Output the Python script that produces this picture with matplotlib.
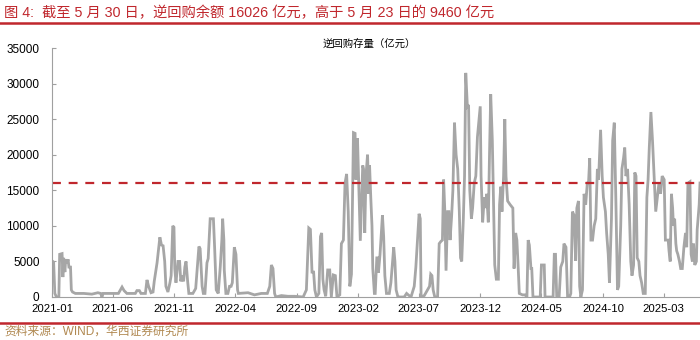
import numpy as np
import pandas as pd
import matplotlib
matplotlib.use("Agg")
import matplotlib.pyplot as plt
from matplotlib.lines import Line2D

plt.rcParams['font.family'] = ['Liberation Sans', 'Noto Sans CJK SC', 'DejaVu Sans']

# 逆回购存量（亿元）
dates_2021 = ["2021-01-01", "2021-01-05", "2021-01-08", "2021-01-12", "2021-01-18", "2021-01-20",
              "2021-01-26", "2021-01-28", "2021-01-30", "2021-02-02", "2021-02-04", "2021-02-07",
              "2021-02-10", "2021-02-12", "2021-02-16", "2021-02-18", "2021-02-21", "2021-02-28",
              "2021-03-21", "2021-04-10", "2021-04-25", "2021-05-02", "2021-05-05", "2021-05-08",
              "2021-06-15", "2021-06-24", "2021-06-29", "2021-07-06", "2021-07-27", "2021-07-31",
              "2021-08-06", "2021-08-10", "2021-08-21", "2021-08-25", "2021-08-29", "2021-09-04",
              "2021-09-09", "2021-09-12", "2021-09-19", "2021-09-26", "2021-09-30", "2021-10-04",
              "2021-10-08", "2021-10-11", "2021-10-16", "2021-10-21", "2021-10-24", "2021-10-28",
              "2021-10-31", "2021-11-02", "2021-11-05", "2021-11-10", "2021-11-14", "2021-11-17",
              "2021-11-20", "2021-11-24", "2021-11-27", "2021-11-30", "2021-12-04", "2021-12-07",
              "2021-12-17", "2021-12-24", "2021-12-28"]
values_2021 = [5100, 4900, 500, 0, 0, 6000,
               6100, 2800, 5500, 3500, 5300, 4700,
               5300, 4200, 4200, 1000, 700, 500,
               500, 400, 600, 500, 0, 500,
               500, 1400, 900, 500, 500, 900,
               900, 500, 500, 2400, 1500, 600,
               700, 2200, 4800, 8400, 7300, 7200,
               5000, 1500, 700, 2000, 3000, 10000,
               9800, 4000, 2000, 5000, 5000, 2200,
               3000, 2200, 4200, 5000, 2200, 500,
               500, 1200, 4200]

dates_2022 = ["2022-01-01", "2022-01-04", "2022-01-09", "2022-01-12", "2022-01-16", "2022-01-21",
              "2022-01-24", "2022-01-29", "2022-02-06", "2022-02-09", "2022-02-13", "2022-02-18",
              "2022-02-23", "2022-02-27", "2022-03-01", "2022-03-04", "2022-03-05", "2022-03-09",
              "2022-03-14", "2022-03-18", "2022-03-22", "2022-03-25", "2022-03-30", "2022-04-03",
              "2022-04-07", "2022-04-09", "2022-05-03", "2022-05-19", "2022-06-05", "2022-06-20",
              "2022-06-26", "2022-06-30", "2022-07-04", "2022-07-08", "2022-07-11", "2022-07-25",
              "2022-08-10", "2022-08-27", "2022-09-17", "2022-09-21", "2022-09-25", "2022-10-01",
              "2022-10-05", "2022-10-09", "2022-10-13", "2022-10-16", "2022-10-20", "2022-10-26",
              "2022-10-30", "2022-11-02", "2022-11-05", "2022-11-08", "2022-11-12", "2022-11-17",
              "2022-11-22", "2022-11-26", "2022-12-01", "2022-12-06", "2022-12-10", "2022-12-17",
              "2022-12-21", "2022-12-26", "2022-12-30"]
values_2022 = [7100, 6800, 1500, 500, 500, 4800,
               5400, 11000, 11000, 7000, 1000, 500,
               4200, 8000, 11000, 8000, 3800, 500,
               500, 1500, 1500, 2000, 7000, 6000,
               1000, 500, 600, 300, 500, 500,
               1500, 4500, 4000, 500, 0, 200,
               100, 100, 0, 500, 1000, 9700,
               9500, 3500, 3500, 1000, 0, 500,
               8500, 9000, 2500, 1000, 100, 3800,
               3800, 0, 3100, 3000, 0, 300,
               7500, 8000, 16000]

dates_2023 = ["2023-01-03", "2023-01-07", "2023-01-11", "2023-01-15", "2023-01-20", "2023-01-24",
              "2023-01-26", "2023-01-30", "2023-02-03", "2023-02-06", "2023-02-12", "2023-02-14",
              "2023-02-17", "2023-02-20", "2023-02-24", "2023-02-27", "2023-03-01", "2023-03-04",
              "2023-03-07", "2023-03-09", "2023-03-13", "2023-03-15", "2023-03-19", "2023-03-21",
              "2023-03-23", "2023-03-27", "2023-04-02", "2023-04-05", "2023-04-08", "2023-04-12",
              "2023-04-19", "2023-04-23", "2023-04-30", "2023-05-03", "2023-05-06", "2023-05-10",
              "2023-05-14", "2023-05-26", "2023-06-01", "2023-06-05", "2023-06-12", "2023-06-20",
              "2023-06-24", "2023-06-28", "2023-07-02", "2023-07-05", "2023-07-07", "2023-07-15",
              "2023-07-23", "2023-07-28", "2023-07-31", "2023-08-03", "2023-08-06", "2023-08-10",
              "2023-08-17", "2023-08-21", "2023-08-25", "2023-08-29", "2023-09-01", "2023-09-04",
              "2023-09-07", "2023-09-11", "2023-09-14", "2023-09-17", "2023-09-21", "2023-09-24",
              "2023-09-28", "2023-10-02", "2023-10-06", "2023-10-10", "2023-10-13", "2023-10-16",
              "2023-10-20", "2023-10-23", "2023-10-26", "2023-10-30", "2023-11-02", "2023-11-05",
              "2023-11-09", "2023-11-12", "2023-11-16", "2023-11-20", "2023-11-24", "2023-12-01",
              "2023-12-03", "2023-12-07", "2023-12-11", "2023-12-14", "2023-12-17", "2023-12-21",
              "2023-12-24", "2023-12-27", "2023-12-31"]
values_2023 = [17300, 12000, 1500, 3200, 23100, 23000,
               16500, 22300, 14000, 7900, 18500, 18000,
               9000, 17000, 20000, 14500, 18500, 14000,
               10000, 4000, 500, 500, 5500, 5500,
               3400, 6000, 11500, 8500, 3000, 500,
               500, 2000, 7000, 5000, 1000, 100,
               0, 0, 500, 300, 0, 1500,
               4200, 8000, 11700, 11000, 0, 200,
               1000, 1500, 3200, 3000, 1000, 0,
               0, 7500, 7800, 8000, 16500, 12000,
               3700, 12000, 12000, 8000, 11500, 15000,
               24500, 20000, 18000, 12000, 5500, 5000,
               11000, 17000, 31500, 26800, 27000, 15000,
               11000, 12500, 16000, 17000, 22500, 26800,
               17000, 10500, 14000, 12500, 14500, 10500,
               20000, 28500, 22000]

dates_2024 = ["2024-01-03", "2024-01-06", "2024-01-10", "2024-01-15", "2024-01-18", "2024-01-21",
              "2024-01-24", "2024-01-28", "2024-01-31", "2024-02-03", "2024-02-07", "2024-02-13",
              "2024-02-20", "2024-02-23", "2024-02-27", "2024-03-01", "2024-03-04", "2024-03-07",
              "2024-03-15", "2024-03-21", "2024-03-26", "2024-03-29", "2024-04-01", "2024-04-05",
              "2024-04-07", "2024-04-10", "2024-04-28", "2024-05-01", "2024-05-08", "2024-05-10",
              "2024-05-30", "2024-06-02", "2024-06-05", "2024-06-08", "2024-06-14", "2024-06-18",
              "2024-06-23", "2024-06-26", "2024-07-01", "2024-07-05", "2024-07-10", "2024-07-13",
              "2024-07-17", "2024-07-21", "2024-07-25", "2024-07-28", "2024-08-01", "2024-08-04",
              "2024-08-07", "2024-08-11", "2024-08-15", "2024-08-19", "2024-08-23", "2024-08-26",
              "2024-08-29", "2024-09-01", "2024-09-05", "2024-09-09", "2024-09-13", "2024-09-17",
              "2024-09-20", "2024-09-25", "2024-09-29", "2024-10-02", "2024-10-07", "2024-10-10",
              "2024-10-14", "2024-10-17", "2024-10-22", "2024-10-25", "2024-10-29", "2024-11-02",
              "2024-11-06", "2024-11-09", "2024-11-14", "2024-11-17", "2024-11-21", "2024-11-24",
              "2024-11-27", "2024-12-01", "2024-12-05", "2024-12-09", "2024-12-12", "2024-12-16",
              "2024-12-19", "2024-12-22", "2024-12-25", "2024-12-29"]
values_2024 = [13000, 4500, 2500, 2500, 13000, 15500,
               12000, 17000, 25000, 17000, 13500, 13000,
               12500, 4000, 9000, 8000, 4500, 500,
               300, 300, 0, 8000, 7300, 4000,
               4000, 0, 0, 4500, 4500, 0,
               0, 6000, 6000, 0, 0, 4200,
               5000, 7500, 7000, 0, 0, 500,
               12000, 11500, 5100, 12500, 13500, 1500,
               0, 1000, 14500, 13000, 16000, 16000,
               19500, 8000, 8000, 10000, 11000, 18000,
               16500, 23500, 17000, 14000, 12000, 9000,
               6000, 2000, 11000, 22000, 24500, 13500,
               1000, 1500, 10000, 18000, 19500, 21000,
               17000, 18000, 13000, 5000, 3000, 4500,
               17500, 17000, 5500, 5000]

dates_2025 = ["2025-01-01", "2025-01-05", "2025-01-09", "2025-01-14", "2025-01-18", "2025-01-21",
              "2025-01-24", "2025-01-28", "2025-02-01", "2025-02-05", "2025-02-09", "2025-02-13",
              "2025-02-17", "2025-02-21", "2025-02-25", "2025-03-02", "2025-03-05", "2025-03-12",
              "2025-03-14", "2025-03-17", "2025-03-20", "2025-03-23", "2025-03-25", "2025-03-28",
              "2025-03-31", "2025-04-02", "2025-04-05", "2025-04-09", "2025-04-12", "2025-04-16",
              "2025-04-20", "2025-04-24", "2025-04-27", "2025-04-30", "2025-05-05", "2025-05-08",
              "2025-05-11", "2025-05-14", "2025-05-17", "2025-05-21", "2025-05-23", "2025-05-28",
              "2025-05-30"]
values_2025 = [3000, 2000, 500, 500, 14000, 16500,
               21000, 26000, 22000, 17000, 12000, 14000,
               16000, 14500, 17000, 16500, 8000, 8000,
               6500, 5000, 14500, 12500, 10000, 11000,
               7500, 6500, 6000, 5000, 4000, 4000,
               7000, 9000, 7000, 16000, 16200, 6000,
               5000, 7500, 4500, 5000, 9460, 13000,
               16026]

latest = 16026
ytick_vals = [0, 5000, 10000, 15000, 20000, 25000, 30000, 35000]
xtick_labels = ["2021-01", "2021-06", "2021-11", "2022-04", "2022-09", "2023-02",
                "2023-07", "2023-12", "2024-05", "2024-10", "2025-03"]

dates = pd.to_datetime(dates_2021 + dates_2022 + dates_2023 + dates_2024 + dates_2025)
values = np.array(values_2021 + values_2022 + values_2023 + values_2024 + values_2025)

fig = plt.figure(figsize=(7, 3.4), dpi=100)
ax = fig.add_axes([0.0743, 0.1265, 0.9257, 0.7323])

ax.plot(dates, values, color='#A6A6A6', lw=2.0, solid_joinstyle='miter')
ax.axhline(latest, color='#C0272D', lw=1.6, ls=(0, (4, 3.5)))

ax.set_xlim(pd.Timestamp("2021-01-01"), pd.Timestamp("2025-05-30"))
ax.set_ylim(0, 35000)
ax.set_yticks(ytick_vals)
ax.set_yticklabels([str(v) for v in ytick_vals], fontsize=8.5)
ax.set_xticks(pd.to_datetime([s + "-01" for s in xtick_labels]))
ax.set_xticklabels(xtick_labels, fontsize=8.2)

for side in ['top', 'right']:
    ax.spines[side].set_visible(False)
for side in ['left', 'bottom']:
    ax.spines[side].set_color('#A0A0A0')
    ax.spines[side].set_linewidth(0.8)
ax.tick_params(axis='both', direction='in', length=3, color='#A0A0A0', width=0.8)
ax.tick_params(axis='x', pad=5)
ax.tick_params(axis='y', pad=9)

ax.set_title('逆回购存量（亿元）', fontsize=7.5, pad=0, y=1.005, x=0.49)

# 标题和来源
fig.text(0.006, 0.962, '图 4:  截至 5 月 30 日，逆回购余额 16026 亿元，高于 5 月 23 日的 9460 亿元',
         color='#C0272D', fontsize=10.3, va='center', ha='left')
fig.add_artist(Line2D([0, 1], [0.932, 0.932], transform=fig.transFigure, color='#C0272D', lw=1.8))
fig.add_artist(Line2D([0, 1], [0.05, 0.05], transform=fig.transFigure, color='#C0272D', lw=1.8))
fig.text(0.006, 0.024, '资料来源：WIND，华西证券研究所', color='#B08850', fontsize=8.5,
         va='center', ha='left')

fig.savefig('out.png', dpi=100)
